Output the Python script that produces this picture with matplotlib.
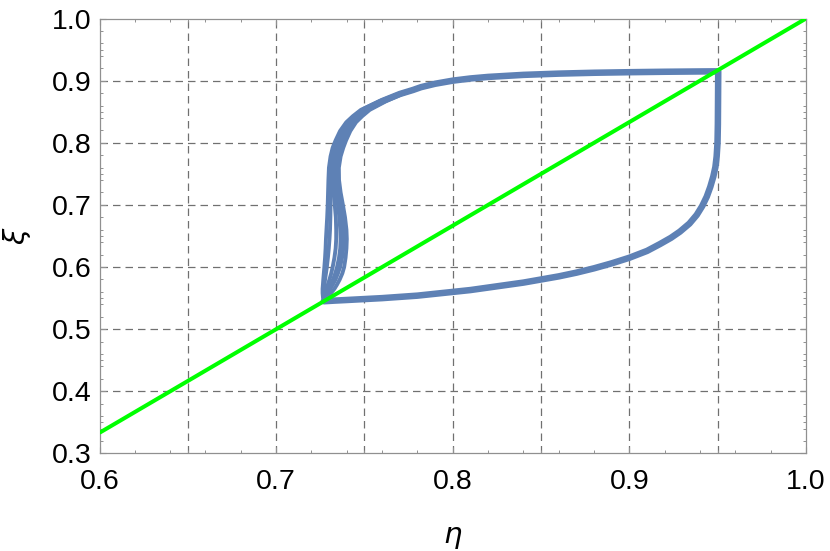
import matplotlib
matplotlib.use("Agg")
import matplotlib.pyplot as plt
from matplotlib.ticker import FixedLocator

plt.rcParams['font.family'] = ['Liberation Sans', 'DejaVu Sans']
plt.rcParams['mathtext.fontset'] = 'dejavusans'

# Droite verte (diagonale)
green_x = [0.6, 1.0]
green_y = [1.0 / 3.0, 1.0]

# Partie commune du cycle : branche basse puis branche droite
low_x = [0.727, 0.733, 0.740, 0.750, 0.760, 0.770, 0.780, 0.790, 0.800, 0.810,
         0.820, 0.830, 0.840, 0.850, 0.860, 0.870, 0.880, 0.890, 0.900, 0.910,
         0.9173, 0.9235, 0.9286, 0.934, 0.9381, 0.9412, 0.9438, 0.9458, 0.9475,
         0.9487, 0.9494, 0.9499, 0.9501, 0.9502, 0.9503]
low_y = [0.545, 0.546, 0.547, 0.5485, 0.550, 0.552, 0.554, 0.557, 0.560, 0.563,
         0.567, 0.571, 0.575, 0.580, 0.585, 0.591, 0.598, 0.606, 0.615, 0.626,
         0.637, 0.647, 0.657, 0.670, 0.6838, 0.698, 0.7133, 0.729, 0.7455,
         0.761, 0.7778, 0.800, 0.830, 0.870, 0.915]

# Branche haute (de droite vers gauche)
top_x = [0.940, 0.920, 0.900, 0.880, 0.860, 0.840, 0.820, 0.810, 0.800, 0.790,
         0.782]
top_y = [0.9148, 0.9143, 0.9136, 0.9127, 0.9113, 0.9093, 0.906, 0.9035, 0.900,
         0.895, 0.8895]

# Branche gauche : plusieurs tours du cycle, légèrement différents
left_y = [0.885, 0.8785, 0.867, 0.853, 0.843, 0.833, 0.819, 0.804, 0.792, 0.778,
          0.760, 0.740, 0.720, 0.700, 0.680, 0.660, 0.645, 0.630, 0.615, 0.600,
          0.590, 0.580, 0.572, 0.565, 0.558, 0.552, 0.545]
left_x1 = [0.7770, 0.7690, 0.7585, 0.7480, 0.7435, 0.7397, 0.7362, 0.7337, 0.7320,
           0.7308, 0.7299, 0.7296, 0.7294, 0.7292, 0.7289, 0.7285, 0.7282, 0.728,
           0.7277, 0.7273, 0.727, 0.7267, 0.7265, 0.7263, 0.7263, 0.7265, 0.727]
left_x2 = [0.7772, 0.7695, 0.7592, 0.7490, 0.7445, 0.7407, 0.7373, 0.7348, 0.7332,
           0.7320, 0.731, 0.7308, 0.7308, 0.7308, 0.7307, 0.7305, 0.7302, 0.7298,
           0.7293, 0.7287, 0.7282, 0.7277, 0.7273, 0.727, 0.7268, 0.7268, 0.727]
left_x3 = [0.7775, 0.7700, 0.7600, 0.7500, 0.7455, 0.7418, 0.7385, 0.7360, 0.7345,
           0.7333, 0.732, 0.732, 0.7325, 0.7332, 0.7338, 0.734, 0.734, 0.7337,
           0.733, 0.732, 0.7312, 0.7302, 0.7293, 0.7285, 0.7278, 0.7273, 0.727]
left_x4 = [0.7778, 0.7705, 0.7608, 0.7510, 0.7466, 0.7429, 0.7396, 0.7372, 0.7357,
           0.7345, 0.733, 0.7332, 0.734, 0.735, 0.7358, 0.7363, 0.7365, 0.7363,
           0.7356, 0.7345, 0.7335, 0.7322, 0.731, 0.7298, 0.7287, 0.7278, 0.727]
left_x5 = [0.7780, 0.7710, 0.7615, 0.7520, 0.7477, 0.7440, 0.7408, 0.7384, 0.7368,
           0.7355, 0.7342, 0.7344, 0.7352, 0.7364, 0.7374, 0.738, 0.7382, 0.738,
           0.7373, 0.7362, 0.735, 0.7336, 0.7321, 0.7307, 0.7293, 0.7282, 0.727]
left_x6 = [0.7783, 0.7715, 0.7623, 0.7530, 0.7488, 0.7452, 0.7420, 0.7396, 0.7380,
           0.7365, 0.7355, 0.7356, 0.7365, 0.7378, 0.739, 0.7398, 0.740, 0.7398,
           0.7393, 0.7385, 0.7375, 0.736, 0.7345, 0.733, 0.731, 0.729, 0.727]
left_variants = [left_x1, left_x2, left_x3, left_x4, left_x5, left_x6]

x_major = [0.6, 0.7, 0.8, 0.9, 1.0]
y_major = [0.3, 0.4, 0.5, 0.6, 0.7, 0.8, 0.9, 1.0]
x_labels = ['0.6', '0.7', '0.8', '0.9', '1.0']
y_labels = ['0.3', '0.4', '0.5', '0.6', '0.7', '0.8', '0.9', '1.0']
x_grid = [0.65, 0.70, 0.75, 0.80, 0.85, 0.90, 0.95]
y_grid = [0.4, 0.5, 0.6, 0.7, 0.8, 0.9]

fig = plt.figure(figsize=(8.3, 5.51), dpi=100)
ax = fig.add_axes([0.1199, 0.177, 0.8512, 0.7894])

blue = '#5e81b5'
# tronc commun, plus épais (plusieurs tours superposés), jusqu'au coin haut-gauche
n_common = 8
ax.plot(low_x + top_x + left_x3[:n_common], low_y + top_y + left_y[:n_common],
        color=blue, lw=4.7, solid_joinstyle='round', solid_capstyle='round', zorder=3)
for lx in left_variants:
    xs = low_x + top_x + lx
    ys = low_y + top_y + left_y
    ax.plot(xs, ys, color=blue, lw=2.8, solid_joinstyle='round',
            solid_capstyle='round', zorder=3)

ax.plot(green_x, green_y, color='#00ff00', lw=2.9, zorder=4, solid_capstyle='butt')

# Grille en tirets
for gx in x_grid:
    ax.axvline(gx, color='#707070', lw=0.9, dashes=(6, 4), zorder=1)
for gy in y_grid:
    ax.axhline(gy, color='#707070', lw=0.9, dashes=(6, 4), zorder=1)

ax.set_xlim(0.6, 1.0)
ax.set_ylim(0.3, 1.0)
ax.xaxis.set_major_locator(FixedLocator(x_major))
ax.yaxis.set_major_locator(FixedLocator(y_major))
x_minor = [round(0.6 + 0.01 * i, 2) for i in range(41)]
x_minor = [v for v in x_minor if (round(v * 100) % 2 == 0 or round(v * 100) % 5 == 0)
           and v not in x_major]
y_minor = [round(0.3 + 0.01 * i, 2) for i in range(71)]
y_minor = [v for v in y_minor if (round(v * 100) % 2 == 0 or round(v * 100) % 5 == 0)
           and v not in y_major]
ax.xaxis.set_minor_locator(FixedLocator(x_minor))
ax.yaxis.set_minor_locator(FixedLocator(y_minor))
ax.set_xticklabels(x_labels)
ax.set_yticklabels(y_labels)

ax.tick_params(which='both', direction='in', top=True, right=True, color='#909090')
ax.tick_params(which='major', length=4.5, width=0.8, labelsize=20.5)
ax.tick_params(which='minor', length=2.2, width=0.7)
ax.tick_params(axis='x', which='major', pad=11)
ax.tick_params(axis='y', which='major', pad=6)
for sp in ax.spines.values():
    sp.set_color('#909090')
    sp.set_linewidth(0.9)

ax.set_xlabel(r'$\eta$', fontsize=21, labelpad=20)
ax.set_ylabel(r'$\xi$', fontsize=21, labelpad=13)

fig.savefig('out.png', dpi=100)
